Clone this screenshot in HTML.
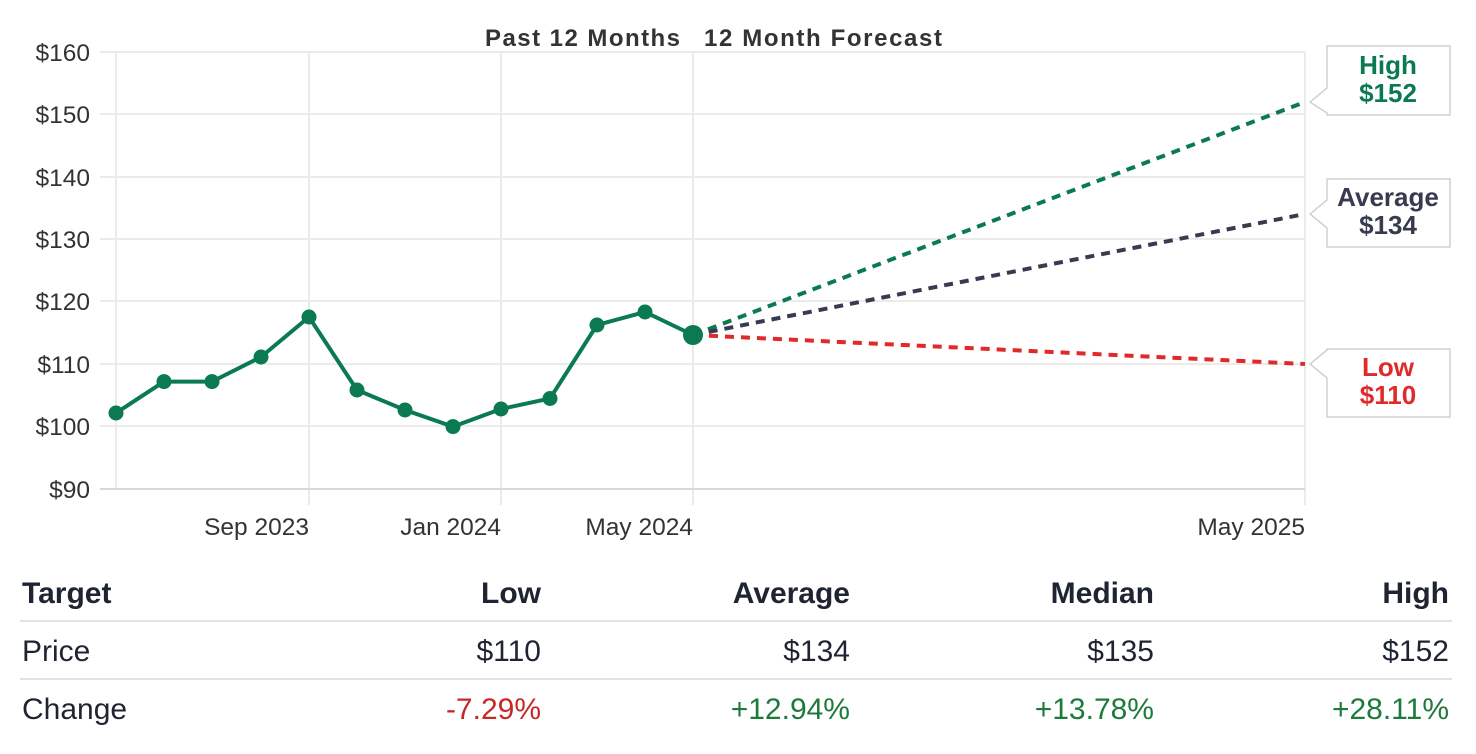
<!DOCTYPE html>
<html><head><meta charset="utf-8"><style>
body{margin:0;background:#fff;width:1476px;height:754px;overflow:hidden;font-family:"Liberation Sans",sans-serif;}
</style></head><body>
<svg width="1476" height="754" style="position:absolute;left:0;top:0" font-family="Liberation Sans, sans-serif">
<g stroke="#ebebeb" stroke-width="2">
<line x1="100" x2="1305" y1="52" y2="52"/><line x1="100" x2="1305" y1="114" y2="114"/>
<line x1="100" x2="1305" y1="177" y2="177"/><line x1="100" x2="1305" y1="239" y2="239"/>
<line x1="100" x2="1305" y1="301" y2="301"/><line x1="100" x2="1305" y1="364" y2="364"/>
<line x1="100" x2="1305" y1="426" y2="426"/>
<line x1="116" x2="116" y1="52" y2="489"/><line x1="309" x2="309" y1="52" y2="505"/>
<line x1="501" x2="501" y1="52" y2="505"/><line x1="693" x2="693" y1="52" y2="505"/>
<line x1="1305" x2="1305" y1="52" y2="505"/>
</g>
<line x1="100" x2="1305" y1="489" y2="489" stroke="#d8d8d8" stroke-width="2"/>
<g font-size="24.5" fill="#333" text-anchor="end">
<text x="90" y="61">$160</text><text x="90" y="123">$150</text><text x="90" y="186">$140</text>
<text x="90" y="248">$130</text><text x="90" y="310">$120</text><text x="90" y="373">$110</text>
<text x="90" y="435">$100</text><text x="90" y="498">$90</text>
</g>
<g font-size="24.5" fill="#333" text-anchor="end">
<text x="309" y="535">Sep 2023</text><text x="501" y="535">Jan 2024</text>
<text x="693" y="535">May 2024</text><text x="1305" y="535">May 2025</text>
</g>
<text x="485" y="46" font-size="24" font-weight="bold" fill="#333" textLength="195">Past 12 Months</text>
<text x="704" y="46" font-size="24" font-weight="bold" fill="#333" textLength="238">12 Month Forecast</text>
<g stroke-width="4" stroke-dasharray="9,7" fill="none">
<line x1="693" y1="335" x2="1305" y2="102" stroke="#0b7a51"/>
<line x1="693" y1="335" x2="1305" y2="214" stroke="#373b4f"/>
<line x1="693" y1="335" x2="1305" y2="364" stroke="#e02a2a"/>
</g>
<polyline fill="none" stroke="#0b7a51" stroke-width="4" points="116,413 164,381.6 212,381.6 261,357 309,317 357,390 405,410 453,426.6 501,409 550,398.5 597,325 645,312 693,335"/>
<g fill="#0b7a51">
<circle cx="116" cy="413" r="7.5"/><circle cx="164" cy="381.6" r="7.5"/><circle cx="212" cy="381.6" r="7.5"/>
<circle cx="261" cy="357" r="7.5"/><circle cx="309" cy="317" r="7.5"/><circle cx="357" cy="390" r="7.5"/>
<circle cx="405" cy="410" r="7.5"/><circle cx="453" cy="426.6" r="7.5"/><circle cx="501" cy="409" r="7.5"/>
<circle cx="550" cy="398.5" r="7.5"/><circle cx="597" cy="325" r="7.5"/><circle cx="645" cy="312" r="7.5"/>
<circle cx="693" cy="335" r="10"/>
</g>
<g fill="#fff" stroke="#d0d0d0" stroke-width="1.5">
<path d="M1327,46 H1450 V115 H1327 V113 L1310,102 L1327,88 Z"/>
<path d="M1327,179 H1450 V247 H1327 V228 L1310,214 L1327,200 Z"/>
<path d="M1327,349 H1450 V417 H1327 V378 L1310,364 L1327,350 Z"/>
</g>
<g font-size="26" font-weight="bold" text-anchor="middle">
<text x="1388" y="74" fill="#0b7a51">High</text><text x="1388" y="102" fill="#0b7a51">$152</text>
<text x="1388" y="206" fill="#373b4f">Average</text><text x="1388" y="234" fill="#373b4f">$134</text>
<text x="1388" y="376" fill="#e02a2a">Low</text><text x="1388" y="404" fill="#e02a2a">$110</text>
</g>
<g stroke="#e2e2e2" stroke-width="2"><line x1="20" x2="1452" y1="621" y2="621"/><line x1="20" x2="1452" y1="679" y2="679"/></g>
<g font-size="30" fill="#1f2433">
<text x="22" y="603" font-weight="bold">Target</text>
<g text-anchor="end" font-weight="bold"><text x="541" y="603">Low</text><text x="850" y="603">Average</text><text x="1154" y="603">Median</text><text x="1449" y="603">High</text></g>
<text x="22" y="661">Price</text>
<g text-anchor="end"><text x="541" y="661">$110</text><text x="850" y="661">$134</text><text x="1154" y="661">$135</text><text x="1449" y="661">$152</text></g>
<text x="22" y="719">Change</text>
<g text-anchor="end"><text x="541" y="719" fill="#c62828">-7.29%</text><text x="850" y="719" fill="#1e7a3c">+12.94%</text><text x="1154" y="719" fill="#1e7a3c">+13.78%</text><text x="1449" y="719" fill="#1e7a3c">+28.11%</text></g>
</g>
</svg>
</body></html>
